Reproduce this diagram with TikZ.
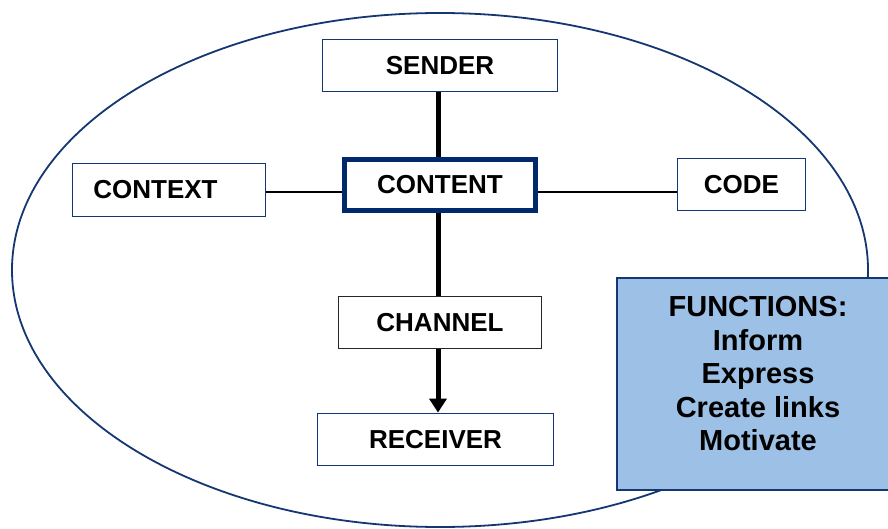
\documentclass[tikz,border=0pt]{standalone}
\usepackage{fontspec}
\setmainfont{Liberation Sans}
\usetikzlibrary{arrows.meta}
\definecolor{navy}{RGB}{20,55,115}
\definecolor{deepnavy}{RGB}{0,42,108}
\definecolor{funcblue}{RGB}{157,192,230}
\begin{document}
\begin{tikzpicture}[x=1pt,y=-1pt,
  box/.style={draw=navy,line width=1.8pt,fill=white,inner sep=0pt,
    font=\fontsize{26}{30}\selectfont\bfseries},
  blackbox/.style={box,draw=black!85},
  mainbox/.style={box,draw=deepnavy,line width=5pt},
  thin/.style={draw=black,line width=1.2pt},
  spine/.style={draw=black,line width=5pt}]
\useasboundingbox (0,0) rectangle (888,529);
\fill[white] (0,0) rectangle (888,529);
\draw[navy,line width=1.8pt] (440,270) ellipse [x radius=428, y radius=257];
\coordinate (axis) at (438,0);
\node[box,minimum width=235pt,minimum height=52pt] (sender) at (440,65.5) {SENDER};
\node[mainbox,minimum width=191pt,minimum height=51pt] (content) at (440,185) {CONTENT};
\node[box,minimum width=193pt,minimum height=53pt] (context) at (169,190) {CONTEXT\hspace*{27pt}};
\node[box,minimum width=128pt,minimum height=52pt] (code) at (741.5,184.5) {CODE};
\node[blackbox,minimum width=203pt,minimum height=52pt] (channel) at (440,322.5) {CHANNEL};
\node[box,minimum width=236pt,minimum height=52pt] (receiver) at (435.5,439.5) {RECEIVER};
\node[draw=navy,line width=1.8pt,fill=funcblue,minimum width=282pt,minimum height=212pt,inner sep=0pt] (funcs) at (758,384) {};
\node[align=center,inner sep=0pt,font=\fontsize{29}{33.5}\selectfont\bfseries] (functext) at (758,374) {FUNCTIONS:\\Inform\\Express\\Create links\\Motivate};
\draw[spine] (sender.south -| axis) -- (content.north -| axis);
\draw[spine] (content.south -| axis) -- (channel.north -| axis);
\draw[spine,-{Triangle[width=17pt,length=14pt]}] (channel.south -| axis) -- (receiver.north -| axis);
\coordinate (lineL) at (0,192);
\draw[thin] (context.east |- lineL) -- (content.west |- lineL);
\draw[thin] (content.east |- lineL) -- (code.west |- lineL);
\end{tikzpicture}
\end{document}
